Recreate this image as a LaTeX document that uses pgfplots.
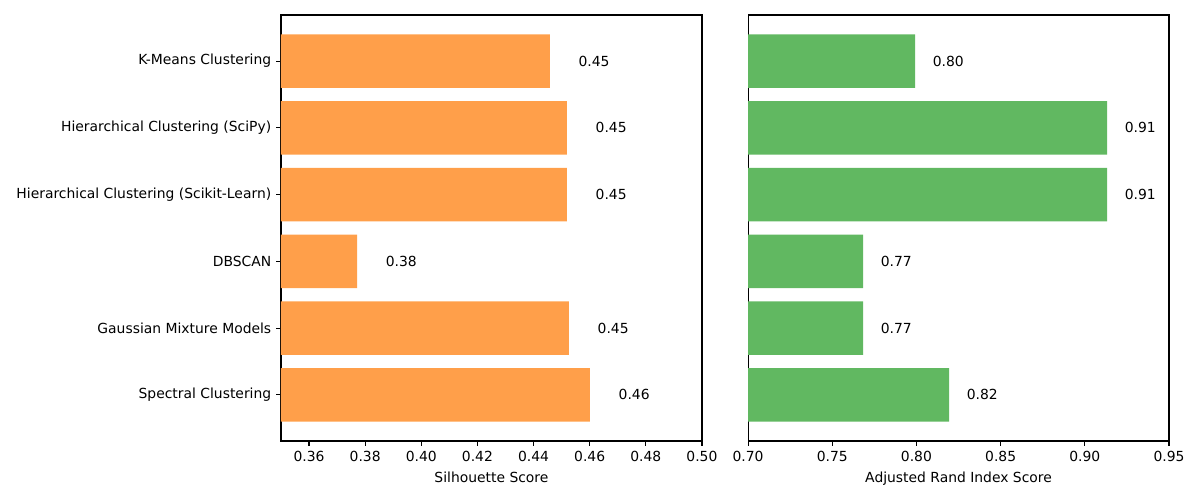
\documentclass[border=0pt]{standalone}
\usepackage{pgfplots}
\pgfplotsset{compat=1.18}
\usepackage{fontspec}
\setmainfont{DejaVu Sans}
\definecolor{barorange}{HTML}{FF9F4A}
\definecolor{bargreen}{HTML}{61B861}

\begin{document}
\begin{tikzpicture}[font=\fontsize{10}{12}\selectfont]
\useasboundingbox (0,0) rectangle (864pt,360pt);
\pgfplotsset{
  panel/.style={
    xbar, scale only axis,
    width=303.1pt, height=306.7pt,
    ymin=-0.69, ymax=5.69,
    bar width=0.8,
    axis line style={line width=0.8pt},
    tick style={line width=0.8pt, black},
    tick align=outside, major tick length=3.5pt,
    xtick pos=bottom, ytick pos=left,
    /pgf/number format/assume math mode=true,
    /pgf/number format/.cd, fixed, fixed zerofill, precision=2, /pgfplots/.cd,
    ticklabel style={font=\fontsize{10}{12}\selectfont},
    xlabel style={font=\fontsize{10}{12}\selectfont, yshift=-1pt},
    nodes near coords,
    every node near coord/.append style={anchor=west, inner sep=0pt, black,
      /pgf/number format/fixed, /pgf/number format/fixed zerofill, /pgf/number format/precision=2},
  }
}
\begin{axis}[panel,
  at={(202.3pt,42.5pt)}, anchor=south west,
  xmin=0.35, xmax=0.50,
  xtick={0.36,0.38,0.40,0.42,0.44,0.46,0.48,0.50},
  ytick={0,1,2,3,4,5},
  yticklabels={Spectral Clustering, Gaussian Mixture Models, DBSCAN,
    Hierarchical Clustering (Scikit-Learn), Hierarchical Clustering (SciPy), K-Means Clustering},
  xlabel={Silhouette Score},
  every node near coord/.append style={xshift=20.5pt},
]
\addplot[fill=barorange, draw=none] coordinates {
  (0.4601,0) (0.4526,1) (0.3771,2) (0.4519,3) (0.4519,4) (0.4458,5)};
\end{axis}
\begin{axis}[panel,
  at={(538.6pt,42.5pt)}, anchor=south west,
  xmin=0.70, xmax=0.95,
  xtick={0.70,0.75,0.80,0.85,0.90,0.95},
  ytick=\empty,
  xlabel={Adjusted Rand Index Score},
  every node near coord/.append style={xshift=12.6pt},
]
\addplot[fill=bargreen, draw=none] coordinates {
  (0.8194,0) (0.7683,1) (0.7683,2) (0.9132,3) (0.9132,4) (0.7992,5)};
\end{axis}
\end{tikzpicture}
\end{document}
